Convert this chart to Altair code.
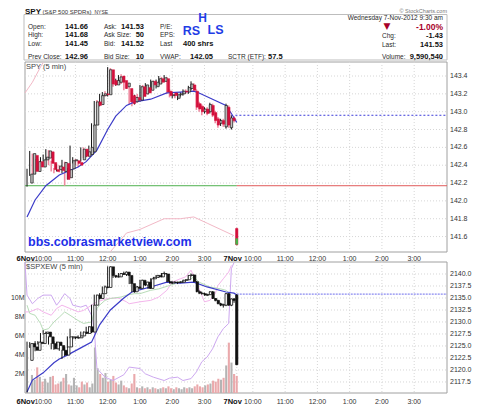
import altair as alt
import pandas as pd

# ---------------- data ----------------
# SPY 5-minute bars, 6-Nov-2012 (bars 0..77) and first bar of 7-Nov-2012 (bar 78)
spy_open = [142.20, 142.30, 142.51, 142.33, 142.44, 142.38, 142.46, 142.48, 142.55, 142.43,
            142.35, 142.35, 142.38, 142.33, 142.42, 142.26, 142.36, 142.45, 142.45, 142.43,
            142.46, 142.58, 142.50, 142.52, 142.55, 142.85, 143.11, 143.08, 143.18, 143.20,
            143.19, 143.47, 143.35, 143.30, 143.33, 143.40, 143.35, 143.28, 143.26, 143.18,
            143.11, 143.16, 143.13, 143.28, 143.20, 143.27, 143.24, 143.34, 143.28, 143.31,
            143.37, 143.34, 143.37, 143.23, 143.18, 143.21, 143.15, 143.19, 143.20, 143.23,
            143.22, 143.26, 143.30, 143.23, 143.09, 143.06, 143.00, 143.03, 143.00, 143.07,
            142.99, 142.92, 142.87, 142.90, 142.83, 143.05, 142.82, 142.93, 141.69]
spy_high = [142.36, 142.56, 142.53, 142.47, 142.47, 142.49, 142.52, 142.58, 142.57, 142.45,
            142.37, 142.41, 142.40, 142.46, 142.44, 142.37, 142.62, 142.49, 142.47, 142.45,
            142.60, 142.60, 142.57, 142.62, 142.87, 143.12, 143.13, 143.20, 143.22, 143.23,
            143.50, 143.49, 143.37, 143.37, 143.41, 143.42, 143.37, 143.34, 143.28, 143.20,
            143.19, 143.20, 143.30, 143.30, 143.32, 143.29, 143.36, 143.35, 143.36, 143.40,
            143.39, 143.41, 143.39, 143.25, 143.21, 143.22, 143.21, 143.22, 143.25, 143.25,
            143.29, 143.34, 143.32, 143.25, 143.11, 143.08, 143.05, 143.05, 143.10, 143.09,
            143.01, 142.94, 142.92, 142.92, 143.09, 143.07, 142.96, 142.95, 141.70]
spy_low = [142.16, 142.28, 142.30, 142.30, 142.35, 142.36, 142.44, 142.46, 142.40, 142.33,
           142.31, 142.33, 142.32, 142.31, 142.17, 142.24, 142.34, 142.42, 142.40, 142.38,
           142.44, 142.48, 142.49, 142.50, 142.53, 142.83, 143.05, 143.06, 143.16, 143.17,
           143.17, 143.29, 143.28, 143.29, 143.32, 143.31, 143.24, 143.26, 143.08, 143.06,
           143.08, 143.10, 143.11, 143.13, 143.18, 143.19, 143.22, 143.28, 143.26, 143.29,
           143.31, 143.33, 143.20, 143.16, 143.15, 143.15, 143.13, 143.17, 143.18, 143.20,
           143.20, 143.24, 143.22, 143.02, 143.00, 142.96, 142.98, 142.96, 142.98, 142.94,
           142.87, 142.82, 142.84, 142.83, 142.81, 142.82, 142.80, 142.88, 141.50]
spy_close = [142.30, 142.53, 142.33, 142.44, 142.38, 142.46, 142.49, 142.56, 142.42, 142.35,
             142.33, 142.39, 142.34, 142.43, 142.24, 142.35, 142.45, 142.46, 142.42, 142.40,
             142.58, 142.50, 142.55, 142.60, 142.85, 143.11, 143.07, 143.18, 143.20, 143.19,
             143.47, 143.31, 143.30, 143.35, 143.39, 143.33, 143.26, 143.32, 143.11, 143.09,
             143.16, 143.13, 143.28, 143.17, 143.30, 143.21, 143.34, 143.30, 143.33, 143.37,
             143.33, 143.38, 143.22, 143.18, 143.19, 143.18, 143.19, 143.20, 143.23, 143.22,
             143.27, 143.31, 143.24, 143.05, 143.03, 143.00, 143.03, 142.98, 143.08, 142.96,
             142.90, 142.85, 142.90, 142.86, 143.07, 142.85, 142.93, 142.90, 141.51]
spy_last_marker = [141.58, 141.51]          # green part of the 7-Nov bar
spy_ma_idx = [0, 3, 7, 12, 19, 22, 26, 30, 33, 37, 40, 46, 52, 57, 62, 64, 69, 74, 76, 78]
spy_ma_val = [141.82, 142.01, 142.17, 142.29, 142.38, 142.44, 142.57, 142.80, 142.95, 143.07,
              143.11, 143.14, 143.21, 143.22, 143.23, 143.21, 143.14, 143.07, 142.98, 142.88]
spy_band_a_idx = [-0.75, 2, 5, 6]
spy_band_a_val = [143.21, 143.33, 143.50, 143.55]
spy_band_b_idx = [31, 37, 42, 51, 57, 62, 67, 77]
spy_band_b_val = [141.43, 141.64, 141.68, 141.80, 141.80, 141.82, 141.75, 141.61]
spy_support = 142.17
spy_prev_close = 142.96

# $SPXEW 5-minute bars
spx_open = [2122.0, 2125.5, 2124.8, 2124.1, 2125.8, 2125.5, 2127.6, 2127.9, 2126.9, 2125.5,
            2124.4, 2125.8, 2125.1, 2124.1, 2123.1, 2124.8, 2126.7, 2126.9, 2126.7, 2126.7,
            2127.1, 2127.9, 2127.6, 2129.0, 2127.9, 2133.5, 2135.6, 2134.9, 2135.9, 2137.3,
            2137.2, 2141.5, 2139.7, 2139.4, 2139.4, 2140.1, 2139.9, 2140.4, 2139.7, 2138.0,
            2136.3, 2137.3, 2137.0, 2138.7, 2137.7, 2138.3, 2137.0, 2139.0, 2139.3, 2139.7,
            2139.4, 2140.1, 2140.0, 2138.4, 2138.1, 2138.3, 2138.2, 2138.3, 2138.3, 2138.7,
            2138.8, 2139.7, 2139.8, 2138.4, 2136.3, 2136.0, 2135.9, 2135.6, 2135.7, 2136.3,
            2134.9, 2134.5, 2133.8, 2133.5, 2133.5, 2135.9, 2133.5, 2134.8, 2135.6]
spx_high = [2125.9, 2125.8, 2125.0, 2126.0, 2126.0, 2127.7, 2128.3, 2128.0, 2127.0, 2125.6,
            2126.0, 2125.9, 2125.2, 2124.2, 2124.9, 2127.0, 2128.6, 2127.0, 2126.9, 2127.2,
            2128.0, 2128.0, 2129.0, 2129.1, 2133.6, 2135.7, 2135.7, 2136.0, 2137.4, 2137.6,
            2141.6, 2141.6, 2139.8, 2139.6, 2140.2, 2140.2, 2140.5, 2140.5, 2139.8, 2138.1,
            2137.4, 2137.5, 2138.8, 2138.8, 2138.4, 2138.4, 2139.1, 2139.4, 2139.8, 2139.8,
            2140.2, 2140.5, 2140.1, 2138.6, 2138.4, 2138.5, 2138.4, 2138.5, 2138.8, 2138.9,
            2139.8, 2140.1, 2139.9, 2138.5, 2136.6, 2136.3, 2136.1, 2135.9, 2136.4, 2136.4,
            2135.0, 2134.6, 2134.0, 2133.8, 2136.0, 2136.0, 2134.9, 2135.0, 2135.8]
spx_low = [2115.3, 2124.6, 2123.9, 2123.9, 2125.3, 2125.3, 2127.4, 2126.8, 2125.3, 2124.3,
           2124.2, 2125.0, 2124.0, 2122.3, 2122.9, 2124.6, 2126.6, 2126.4, 2126.4, 2126.5,
           2127.0, 2127.4, 2127.5, 2127.8, 2127.7, 2133.3, 2134.7, 2134.7, 2135.7, 2136.9,
           2137.0, 2139.6, 2139.2, 2139.2, 2139.3, 2139.7, 2139.8, 2139.6, 2137.9, 2136.2,
           2136.1, 2136.8, 2136.9, 2137.6, 2137.5, 2136.9, 2136.9, 2138.7, 2139.1, 2139.2,
           2139.3, 2139.8, 2138.3, 2138.0, 2137.9, 2138.1, 2137.9, 2138.1, 2138.2, 2138.5,
           2138.7, 2139.5, 2138.3, 2136.2, 2135.8, 2135.7, 2135.5, 2135.4, 2135.6, 2134.8,
           2134.3, 2133.7, 2133.3, 2133.0, 2133.3, 2133.4, 2133.3, 2134.0, 2121.0]
spx_close = [2125.5, 2124.8, 2124.1, 2125.8, 2125.5, 2127.6, 2127.9, 2126.9, 2125.5, 2124.4,
             2125.8, 2125.1, 2124.1, 2123.1, 2124.8, 2126.9, 2126.9, 2126.7, 2126.7, 2127.1,
             2127.9, 2127.6, 2129.0, 2127.9, 2133.5, 2135.6, 2134.9, 2135.9, 2137.3, 2137.2,
             2141.5, 2139.7, 2139.4, 2139.4, 2140.1, 2139.9, 2140.4, 2139.7, 2138.0, 2136.3,
             2137.3, 2137.0, 2138.7, 2137.7, 2138.3, 2137.0, 2139.0, 2139.3, 2139.7, 2139.4,
             2140.1, 2140.0, 2138.4, 2138.1, 2138.3, 2138.2, 2138.3, 2138.3, 2138.7, 2138.8,
             2139.7, 2139.8, 2138.4, 2136.3, 2136.0, 2135.9, 2135.6, 2135.7, 2136.3, 2134.9,
             2134.5, 2133.8, 2133.5, 2133.6, 2135.9, 2133.5, 2134.8, 2134.5, 2121.1]
volume_m = [1.9, 1.4, 2.7, 1.7, 1.2, 1.5, 1.1, 1.7, 1.8, 0.9,
            1.0, 1.2, 1.6, 2.0, 0.9, 0.8, 1.6, 0.8, 0.6, 1.2,
            0.9, 1.1, 0.6, 1.0, 4.8, 2.6, 2.0, 1.6, 2.1, 1.2,
            1.4, 1.8, 1.1, 0.9, 1.3, 0.8, 0.6, 0.5, 1.0, 2.0,
            0.6, 0.5, 0.7, 0.5, 0.6, 0.4, 0.6, 0.5, 0.4, 0.5,
            0.6, 0.5, 0.7, 0.5, 0.4, 0.6, 0.5, 0.4, 0.6, 0.5,
            0.6, 0.5, 0.7, 0.9, 0.7, 0.6, 0.8, 0.9, 1.0, 1.3,
            1.2, 1.5, 1.4, 1.6, 2.9, 5.3, 3.2, 2.0, 1.8]
spx_ma_idx = [0, 2, 6, 10, 12, 15, 20, 24, 27, 31, 36, 39, 46, 52, 57, 62, 67, 74, 77, 78]
spx_ma_val = [2115.4, 2117.9, 2119.4, 2121.5, 2122.3, 2123.1, 2124.6, 2125.8, 2129.4, 2132.5,
              2135.0, 2136.25, 2137.3, 2138.3, 2138.1, 2138.3, 2137.3, 2136.25, 2136.0, 2135.6]
spx_green_idx = [0, 1, 3, 5, 6, 8, 10, 12, 14, 16, 19, 21, 24, 25, 27, 29, 31, 35, 37, 40,
                 42, 46, 49, 53, 57, 61, 62, 64, 68, 72, 74, 76]
spx_green_val = [2133.5, 2131.8, 2131.4, 2129.7, 2128.3, 2128.6, 2130.0, 2131.0, 2132.1, 2131.4,
                 2130.3, 2129.7, 2130.0, 2132.1, 2133.5, 2134.5, 2134.9, 2135.2, 2135.6, 2135.9,
                 2135.9, 2136.6, 2136.9, 2137.6, 2138.3, 2139.0, 2139.4, 2138.3, 2137.3, 2136.9,
                 2136.6, 2135.6]
spx_pink_idx = [-0.75, 1, 4, 6, 9, 11, 13, 16, 19, 21, 24, 26, 30, 34, 37, 38, 42, 46, 49, 52,
                54, 57, 59, 61, 63, 66, 68, 70, 71, 73, 75, 76]
spx_pink_val = [2132.1, 2132.1, 2132.8, 2132.1, 2131.4, 2132.8, 2133.5, 2132.8, 2132.1, 2132.4,
                2133.5, 2134.2, 2134.9, 2135.0, 2134.2, 2133.8, 2134.2, 2134.5, 2135.2, 2136.6,
                2138.3, 2139.0, 2139.4, 2140.8, 2138.3, 2134.2, 2134.5, 2135.9, 2137.6, 2139.0,
                2140.4, 2141.8]
spx_violet_idx = [-0.75, 0, 2, 4, 6, 9, 11, 12, 14, 16, 17, 20, 22, 24, 25, 26, 29, 32, 36, 38,
                  42, 44, 47, 51, 53, 56, 58, 61, 63, 65, 67, 69, 71, 73, 75, 76, 77]
spx_violet_val = [2142.4, 2135.6, 2133.8, 2134.9, 2135.6, 2135.6, 2133.5, 2134.2, 2135.9, 2134.9,
                  2133.5, 2133.1, 2133.5, 2131.4, 2128.6, 2120.3, 2118.5, 2117.8, 2119.0, 2120.6,
                  2120.3, 2119.2, 2118.5, 2117.8, 2118.3, 2118.5, 2117.8, 2118.2, 2119.6, 2121.7,
                  2122.7, 2124.4, 2126.9, 2128.6, 2129.7, 2141.1, 2142.4]
spx_prev_close = 2135.8

# axis ticks / labels
top_ticks = [141.6, 141.8, 142.0, 142.2, 142.4, 142.6, 142.8, 143.0, 143.2, 143.4]
bot_ticks = [2117.5, 2120.0, 2122.5, 2125.0, 2127.5, 2130.0, 2132.5, 2135.0, 2137.5, 2140.0]
vol_ticks = [2, 4, 6, 8, 10]
vol_tick_labels = ["2M", "4M", "6M", "8M", "10M"]
hour_idx = [6, 18, 30, 42, 54, 66, 84, 96, 108, 120, 132, 144]
hour_labels = ["10:00", "11:00", "12:00", "1:00", "2:00", "3:00",
               "10:00", "11:00", "12:00", "1:00", "2:00", "3:00"]
grid_idx = [6, 18, 30, 42, 54, 66, 78, 84, 96, 108, 120, 132, 144]
day_idx = [-0.5, 76.5]
day_labels = ["6Nov", "7Nov"]
last_day_start = 78
x_end = 156.2

# header quote values
q1_labels = ["Open:", "High:", "Low:", "Prev Close:"]
q1_values = ["141.66", "141.68", "141.45", "142.96"]
q2_labels = ["Ask:", "Ask Size:", "Bid:", "Bid Size:"]
q2_values = ["141.53", "50", "141.52", "10"]
q3_labels = ["P/E:", "EPS:", "Last", "VWAP:"]
q4_labels = ["Chg:", "Last:", "Volume:"]
q4_values = ["-1.43", "141.53", "9,590,540"]

# ---------------- chart ----------------
FONT = "Liberation Sans, Arial, sans-serif"

X0, X1 = 17, 439
T0, T1 = 54, 244
B0, B1 = 254, 385

XS = alt.Scale(domain=[-0.75, x_end], range=[X0, X1], nice=False, zero=False)
YT = alt.Scale(domain=[141.427, 143.557], range=[T1, T0], nice=False, zero=False)
YB = alt.Scale(domain=[2115.2, 2142.5], range=[B1, B0], nice=False, zero=False)
YV = alt.Scale(domain=[0, 13.79], range=[B1, B0], nice=False, zero=False)

one = pd.DataFrame({"k": [0]})


def X(f):
    return alt.X(f, type="quantitative", scale=XS, axis=None)


def Y(f, s):
    return alt.Y(f, type="quantitative", scale=s, axis=None)


def label(s, x, y, size=6.5, color="#2a2a2a", weight="normal", align="left",
          font=FONT, baseline="middle"):
    return alt.Chart(one).mark_text(
        x=x, y=y, fontSize=size, color=color, fontWeight=weight, align=align,
        baseline=baseline, font=font).encode(text=alt.value(s))


def frame(y0, y1):
    return alt.Chart(one).mark_rect(fill="white", stroke="#a0a0a0", strokeWidth=1).encode(
        x=alt.value(X0), x2=alt.value(X1), y=alt.value(y0), y2=alt.value(y1))


L = []
# header box + panels
L.append(alt.Chart(one).mark_rect(fill="white", stroke="#bdbdbd", strokeWidth=1).encode(
    x=alt.value(16), x2=alt.value(439), y=alt.value(6.5), y2=alt.value(52)))
L.append(frame(T0, T1))
L.append(frame(B0, B1))

GRID = dict(color="#d6d6d6", strokeDash=[1, 2], strokeWidth=1)
grid_df = pd.DataFrame({"i": grid_idx})
L.append(alt.Chart(pd.DataFrame({"p": top_ticks})).mark_rule(**GRID).encode(
    y=Y("p", YT), x=alt.value(X0), x2=alt.value(X1)))
L.append(alt.Chart(pd.DataFrame({"p": bot_ticks})).mark_rule(**GRID).encode(
    y=Y("p", YB), x=alt.value(X0), x2=alt.value(X1)))
L.append(alt.Chart(grid_df).mark_rule(**GRID).encode(
    x=X("i"), y=alt.value(T0), y2=alt.value(T1)))
L.append(alt.Chart(grid_df).mark_rule(**GRID).encode(
    x=X("i"), y=alt.value(B0), y2=alt.value(B1)))

# ---- top panel (SPY) ----
sup = pd.DataFrame({"a": [-0.75, last_day_start], "b": [last_day_start, x_end],
                    "p": [spy_support, spy_support], "seg": ["d1", "d2"]})
L.append(alt.Chart(sup[sup.seg == "d1"]).mark_rule(color="#4fb04f", strokeWidth=1).encode(
    x=X("a"), x2="b:Q", y=Y("p", YT)))
L.append(alt.Chart(sup[sup.seg == "d2"]).mark_rule(color="#e05a5a", strokeWidth=1).encode(
    x=X("a"), x2="b:Q", y=Y("p", YT)))
L.append(alt.Chart(pd.DataFrame({"a": [last_day_start - 0.5], "b": [x_end], "p": [spy_prev_close]}))
         .mark_rule(color="#3a3ad8", strokeDash=[2, 2], strokeWidth=1).encode(
    x=X("a"), x2="b:Q", y=Y("p", YT)))

L.append(alt.Chart(pd.DataFrame({"i": spy_band_a_idx, "p": spy_band_a_val}))
         .mark_line(color="#f2b8c6", strokeWidth=1).encode(x=X("i"), y=Y("p", YT)))
L.append(alt.Chart(pd.DataFrame({"i": spy_band_b_idx, "p": spy_band_b_val}))
         .mark_line(color="#f2b8c6", strokeWidth=1).encode(x=X("i"), y=Y("p", YT)))

spy = pd.DataFrame({"i": list(range(len(spy_open))), "o": spy_open, "h": spy_high,
                    "l": spy_low, "c": spy_close})
spy_up = spy[spy.c >= spy.o]
spy_dn = spy[spy.c < spy.o]
L.append(alt.Chart(spy_dn).mark_rule(color="#ef8aa0", strokeWidth=1.6).encode(
    x=X("i"), y=Y("l", YT), y2="h:Q"))
L.append(alt.Chart(spy_up).mark_rule(color="#111", strokeWidth=1).encode(
    x=X("i"), y=Y("l", YT), y2="h:Q"))
L.append(alt.Chart(pd.DataFrame({"i": spy_ma_idx, "p": spy_ma_val}))
         .mark_line(color="#3b3bc8", strokeWidth=1.2).encode(x=X("i"), y=Y("p", YT)))
L.append(alt.Chart(spy_up).mark_bar(size=2.4, orient="vertical", fill="#c2c2c2", stroke="#111",
                                    strokeWidth=0.7).encode(x=X("i"), y=Y("o", YT), y2="c:Q"))
L.append(alt.Chart(spy_dn).mark_bar(size=2.4, orient="vertical", fill="#d4103c", stroke="#d4103c",
                                    strokeWidth=0.5).encode(x=X("i"), y=Y("o", YT), y2="c:Q"))
L.append(alt.Chart(pd.DataFrame({"i": [last_day_start], "a": [spy_last_marker[0]],
                                 "b": [spy_last_marker[1]]}))
         .mark_bar(size=2.6, orient="vertical", fill="#49b049").encode(
    x=X("i"), y=Y("a", YT), y2="b:Q"))

# ---- bottom panel ($SPXEW + volume) ----
vol = pd.DataFrame({"i": list(range(len(volume_m))), "v": volume_m,
                    "up": [c >= o for o, c in zip(spy_open, spy_close)]})
L.append(alt.Chart(vol[vol.up]).mark_bar(size=2.1, orient="vertical", color="#b4b4b4").encode(
    x=X("i"), y=Y("v", YV), y2=alt.datum(0)))
L.append(alt.Chart(vol[~vol.up]).mark_bar(size=2.1, orient="vertical", color="#eaa9ac").encode(
    x=X("i"), y=Y("v", YV), y2=alt.datum(0)))

L.append(alt.Chart(pd.DataFrame({"i": spx_violet_idx, "p": spx_violet_val}))
         .mark_line(color="#cda8f0", strokeWidth=1).encode(x=X("i"), y=Y("p", YB)))
L.append(alt.Chart(pd.DataFrame({"i": spx_pink_idx, "p": spx_pink_val}))
         .mark_line(color="#f4b6ec", strokeWidth=1).encode(x=X("i"), y=Y("p", YB)))
L.append(alt.Chart(pd.DataFrame({"i": spx_green_idx, "p": spx_green_val}))
         .mark_line(color="#b8dcb8", strokeWidth=1).encode(x=X("i"), y=Y("p", YB)))
L.append(alt.Chart(pd.DataFrame({"a": [last_day_start], "b": [x_end], "p": [spx_prev_close]}))
         .mark_rule(color="#8a8af0", strokeDash=[2, 1], strokeWidth=1.2).encode(
    x=X("a"), x2="b:Q", y=Y("p", YB)))
L.append(alt.Chart(pd.DataFrame({"i": spx_ma_idx, "p": spx_ma_val}))
         .mark_line(color="#3b3bc8", strokeWidth=1.2).encode(x=X("i"), y=Y("p", YB)))

spx = pd.DataFrame({"i": list(range(len(spx_open))), "o": spx_open, "h": spx_high,
                    "l": spx_low, "c": spx_close})
spx_up = spx[spx.c >= spx.o]
spx_dn = spx[spx.c < spx.o]
L.append(alt.Chart(spx).mark_rule(color="#111", strokeWidth=1).encode(
    x=X("i"), y=Y("l", YB), y2="h:Q"))
L.append(alt.Chart(spx_up).mark_bar(size=2.4, orient="vertical", fill="#ffffff", stroke="#111",
                                    strokeWidth=0.8).encode(x=X("i"), y=Y("o", YB), y2="c:Q"))
L.append(alt.Chart(spx_dn).mark_bar(size=2.4, orient="vertical", fill="#111", stroke="#111",
                                    strokeWidth=0.6).encode(x=X("i"), y=Y("o", YB), y2="c:Q"))

# ---- axis labels ----
TICK = dict(fontSize=7, color="#333", font=FONT)
L.append(alt.Chart(pd.DataFrame({"p": top_ticks})).mark_text(align="left", baseline="middle", **TICK)
         .encode(x=alt.value(X1 + 3), y=Y("p", YT), text=alt.Text("p:Q", format=".1f")))
L.append(alt.Chart(pd.DataFrame({"p": bot_ticks})).mark_text(align="left", baseline="middle", **TICK)
         .encode(x=alt.value(X1 + 3), y=Y("p", YB), text=alt.Text("p:Q", format=".1f")))
L.append(alt.Chart(pd.DataFrame({"v": vol_ticks, "t": vol_tick_labels}))
         .mark_text(align="right", baseline="middle", **TICK)
         .encode(x=alt.value(X0 - 0.5), y=Y("v", YV), text="t:N"))
hours = pd.DataFrame({"i": hour_idx, "t": hour_labels})
days = pd.DataFrame({"i": day_idx, "t": day_labels})
for yy in (T1 + 6.5, B1 + 9):
    L.append(alt.Chart(hours).mark_text(align="center", baseline="middle", **TICK)
             .encode(x=X("i"), y=alt.value(yy), text="t:N"))
    L.append(alt.Chart(days).mark_text(align="center", baseline="middle", fontSize=7.5,
                                       fontWeight="bold", color="#111", font=FONT)
             .encode(x=X("i"), y=alt.value(yy), text="t:N"))

L.append(label("SPY (5 min)", 18, T0 + 5, size=7.5, color="#444"))
L.append(label("$SPXEW (5 min)", 18, B0 + 5, size=7.5, color="#444"))
L.append(label("bbs.cobrasmarketview.com", 20, 234, size=12.5, color="#2130e8", weight="bold"))

# ---- header ----
L.append(label("SPY", 17, 5.8, size=8, weight="bold", color="#111", baseline="alphabetic"))
L.append(label("(S&P 500 SPDRs)", 34.5, 5.8, size=6, color="#333", baseline="alphabetic"))
L.append(label("NYSE", 86.5, 5.8, size=5, color="#333", baseline="alphabetic"))
L.append(label("\u00a9 StockCharts.com", 439, 5, size=5.5, color="#777", align="right",
               baseline="alphabetic"))

rows_y = [19, 27, 35.5, 49]
VAL = dict(size=7.5, weight="bold", color="#111")
for k in range(4):
    L.append(label(q1_labels[k], 20, rows_y[k]))
    L.append(label(q1_values[k], 80, rows_y[k], align="right", **VAL))
    L.append(label(q2_labels[k], 96, rows_y[k]))
    L.append(label(q2_values[k], 136, rows_y[k], align="right", **VAL))
    L.append(label(q3_labels[k], 152, rows_y[k]))
L.append(label("400 shrs", 175, 35.5, **VAL))
L.append(label("142.05", 205, 49, align="right", **VAL))
L.append(label("SCTR (ETF):", 220, 49))
L.append(label("57.5", 260, 49, **VAL))

BLUE = "#1f3de6"
L.append(label("H", 194.5, 10, size=12, weight="bold", color=BLUE, align="center"))
L.append(label("RS", 183.5, 23, size=12.5, weight="bold", color=BLUE, align="center"))
L.append(label("LS", 207.5, 22, size=12.5, weight="bold", color=BLUE, align="center"))

L.append(label("Wednesday  7-Nov-2012  9:30 am", 435, 9.5, size=6.5, align="right"))
L.append(label("\u25bc", 379, 18, size=9, color="#a8002a", align="center", font="DejaVu Sans"))
L.append(label("-1.00%", 435, 18.5, size=8.5, weight="bold", color="#a8002a", align="right"))
q4_y = [28, 37, 49]
for k in range(3):
    L.append(label(q4_labels[k], 374, q4_y[k]))
    L.append(label(q4_values[k], 435, q4_y[k], align="right", **VAL))

chart = (alt.layer(*L)
         .resolve_scale(x="independent", y="independent")
         .properties(width=464, height=397, padding=0,
                     autosize=alt.AutoSizeParams(type="none"))
         .configure_view(stroke=None))

chart.save("out.html", embed_options={"renderer": "svg", "actions": False})
